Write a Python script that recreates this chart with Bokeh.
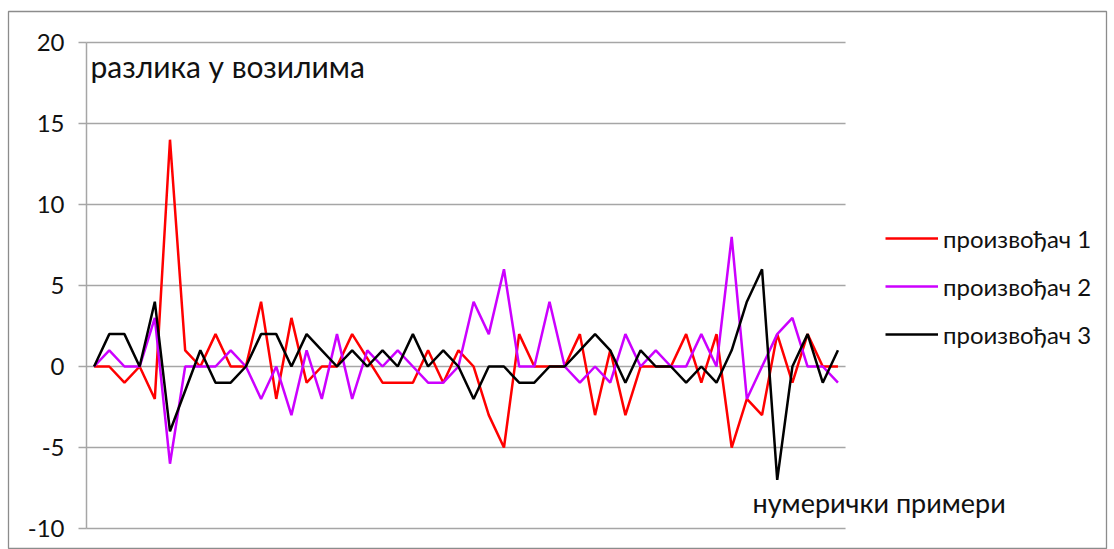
from bokeh.plotting import figure
from bokeh.models import Range1d, FixedTicker, Legend, LegendItem, Label
from bokeh.embed import file_html
from bokeh.resources import INLINE

# numeric examples 1..50 and the difference in vehicles for each producer
primeri = list(range(1, 51))
proizvodjac_1 = [0, 0, -1, 0, -2, 14, 1, 0, 2, 0,
                 0, 4, -2, 3, -1, 0, 0, 2, 0.5, -1,
                 -1, -1, 1, -1, 1, 0, -3, -5, 2, 0,
                 0, 0, 2, -3, 1, -3, 0, 0, 0, 2,
                 -1, 2, -5, -2, -3, 2, -1, 2, 0, 0]
proizvodjac_2 = [0, 1, 0, 0, 3, -6, 0, 0, 0, 1,
                 0, -2, 0, -3, 1, -2, 2, -2, 1, 0,
                 1, 0, -1, -1, 0, 4, 2, 6, 0, 0,
                 4, 0, -1, 0, -1, 2, 0, 1, 0, 0,
                 2, 0, 8, -2, 0, 2, 3, 0, 0, -1]
proizvodjac_3 = [0, 2, 2, 0, 4, -4, -1.5, 1, -1, -1,
                 0, 2, 2, 0, 2, 1, 0, 1, 0, 1,
                 0, 2, 0, 1, 0, -2, 0, 0, -1, -1,
                 0, 0, 1, 2, 1, -1, 1, 0, 0, -1,
                 0, -1, 1, 4, 6, -7, 0, 2, -1, 1]
serije = ["произвођач 1", "произвођач 2", "произвођач 3"]
y_ticks = [-10, -5, 0, 5, 10, 15, 20]

boje = ["#ff0000", "#cc00ff", "#000000"]
FONT = "Lato"
GRID = "#a6a6a6"
TXT = "#111111"

# the frame is the whole chart area; the plotting area sits inside it
# (categories 1..50 between x=0.5 and x=50.5, values between -10 and 20)
X0, X1 = 0.5, len(primeri) + 0.5
p = figure(width=1114, height=549, output_backend="svg", toolbar_location=None,
           x_range=Range1d(X0 - 5.138, X1 + 17.19),
           y_range=Range1d(-11.296, 21.914),
           min_border_left=8, min_border_right=8,
           min_border_top=11, min_border_bottom=0)
p.outline_line_color = "#8c8c8c"
p.outline_line_width = 1.3
p.background_fill_color = "white"
p.border_fill_color = "white"

p.xaxis.visible = False
p.xgrid.visible = False
p.ygrid.visible = False

yax = p.yaxis[0]
yax.fixed_location = X0
yax.bounds = (min(y_ticks), max(y_ticks))
yax.ticker = FixedTicker(ticks=y_ticks)
yax.major_label_overrides = {t: str(t) for t in y_ticks}
yax.axis_line_color = GRID
yax.axis_line_width = 1.5
yax.major_tick_line_color = GRID
yax.major_tick_line_width = 1.5
yax.major_tick_out = 8
yax.major_tick_in = 0
yax.minor_tick_line_color = None
yax.major_label_text_font = FONT
yax.major_label_text_font_size = "24px"
yax.major_label_text_color = TXT
yax.major_label_standoff = 14

# horizontal gridlines across the plotting area
p.segment(x0=[X0] * len(y_ticks), y0=y_ticks, x1=[X1] * len(y_ticks), y1=y_ticks,
          line_color=GRID, line_width=1.5)

renderers = []
for vals, col in zip([proizvodjac_1, proizvodjac_2, proizvodjac_3], boje):
    r = p.line(primeri, vals, line_color=col, line_width=2.5)
    renderers.append(r)

legend = Legend(items=[LegendItem(label=s, renderers=[r]) for s, r in zip(serije, renderers)],
                location=(877, 200), orientation="vertical",
                glyph_width=53, glyph_height=30, label_height=30,
                label_standoff=5, spacing=18, padding=0, margin=0,
                border_line_color=None, background_fill_alpha=0,
                label_text_font=FONT, label_text_font_size="24px",
                label_text_color=TXT)
p.add_layout(legend)

p.add_layout(Label(x=0.76, y=18.56, text="разлика у возилима",
                   text_font=FONT, text_font_size="30px", text_color=TXT,
                   text_baseline="alphabetic"))
p.add_layout(Label(x=44.37, y=-8.39, text="нумерички примери",
                   text_font=FONT, text_font_size="27px", text_color=TXT,
                   text_baseline="alphabetic"))

open("out.html", "w").write(file_html(p, INLINE))
